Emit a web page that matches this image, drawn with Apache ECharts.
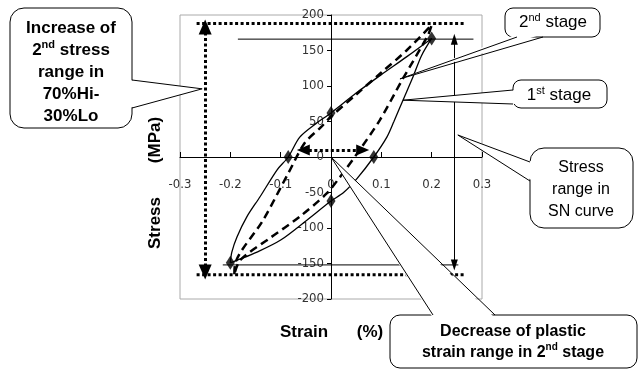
<!DOCTYPE html>
<html>
<head>
<meta charset="utf-8">
<script src="https://cdn.jsdelivr.net/npm/echarts@6/dist/echarts.min.js"></script>
<style>
html, body { margin: 0; padding: 0; background: #fff; }
#main { width: 641px; height: 370px; }
</style>
</head>
<body>
<div id="main"></div>
<script>
// hysteresis loops, strain in %, stress in MPa
var stage1Strain = [-0.2, -0.197, -0.187, -0.167, -0.141, -0.107, -0.085, -0.062, -0.03, 0, 0.05, 0.1, 0.15, 0.2,
  0.18, 0.163, 0.143, 0.125, 0.111, 0.085, 0.052, 0.025, 0, -0.048, -0.1, -0.147, -0.185, -0.2];
var stage1Stress = [-149, -134, -113, -84, -56, -18, 0, 28, 47, 62, 90, 116, 141, 167,
  143, 113, 80, 50, 28, 0, -30, -50, -62, -89, -117, -134, -145, -149];
var stage2Strain = [-0.192, -0.19, -0.135, -0.085, -0.052, -0.02, 0, 0.05, 0.1, 0.15, 0.2,
  0.193, 0.141, 0.097, 0.052, 0.018, -0.008, -0.062, -0.121, -0.18, -0.192];
var stage2Stress = [-165, -149, -89, -23, 20, 42, 57, 88, 119, 150, 186,
  172, 108, 52, 5, -28, -51, -84, -114, -145, -165];

// diamond markers
var markStrain = [-0.2, -0.085, 0, 0.2, 0.085, 0];
var markStress = [-149, 0, 62, 167, 0, -62];

// stress range in SN curve (solid) and in 2nd stage (dotted)
var snStress = [166, -152];
var snStrainTop = [-0.185, 0.283];
var snStrainBottom = [-0.215, 0.253];
var snArrowStrain = 0.245;
var stage2Range = [188, -166];
var stage2LineStrain = [-0.267, 0.267];
var stage2ArrowStrain = -0.25;
var stage2ArrowStress = [183, -162];
// decrease of plastic strain range
var plasticStrain = [-0.055, 0.063];
var plasticStress = 10;

function zip(xs, ys) {
  return xs.map(function (x, i) { return [x, ys[i]]; });
}

var W = 641, H = 370;
var gridBox = { left: 180, right: 159, top: 15, bottom: 71 };
// axes cross in the middle of the box, labels and ticks go with them
var xShift = -(H - gridBox.top - gridBox.bottom) / 2;
var yShift = -(W - gridBox.left - gridBox.right) / 2;

var chart = echarts.init(document.getElementById('main'));
var tickFont = '"Liberation Sans Narrow", "DejaVu Sans Condensed", sans-serif';
var textFont = '"Liberation Sans", Arial, sans-serif';

var option = {
  animation: false,
  backgroundColor: '#fff',
  grid: Object.assign({ show: true, borderColor: '#aaa', borderWidth: 1 }, gridBox),
  xAxis: {
    type: 'value', min: -0.3, max: 0.3, interval: 0.1, offset: xShift,
    axisLine: { onZero: false, lineStyle: { color: '#000', width: 1 } },
    axisTick: { inside: true, length: 5, lineStyle: { color: '#000' } },
    axisLabel: { margin: 21, color: '#333', fontSize: 13, fontFamily: tickFont },
    splitLine: { show: false }
  },
  yAxis: {
    type: 'value', min: -200, max: 200, interval: 50, offset: yShift,
    axisLine: { show: true, onZero: false, lineStyle: { color: '#000', width: 1 } },
    axisTick: { show: true, length: 4, lineStyle: { color: '#000' } },
    axisLabel: { margin: 7, color: '#333', fontSize: 13, fontFamily: tickFont },
    splitLine: { show: false }
  },
  series: [
    { // SN curve range lines
      type: 'line', symbol: 'none', silent: true,
      data: zip(snStrainTop, [snStress[0], snStress[0]]),
      lineStyle: { color: '#000', width: 1 }
    },
    {
      type: 'line', symbol: 'none', silent: true,
      data: zip(snStrainBottom, [snStress[1], snStress[1]]),
      lineStyle: { color: '#000', width: 1 }
    },
    { // 2nd stage range lines
      type: 'line', symbol: 'none', silent: true,
      data: zip(stage2LineStrain, [stage2Range[0], stage2Range[0]]),
      lineStyle: { color: '#000', width: 3, type: [3, 2.5] }
    },
    {
      type: 'line', symbol: 'none', silent: true,
      data: zip(stage2LineStrain, [stage2Range[1], stage2Range[1]]),
      lineStyle: { color: '#000', width: 3, type: [3, 2.5] }
    },
    { // arrows
      type: 'line', data: [], silent: true,
      markLine: {
        silent: true, animation: false,
        label: { show: false },
        symbol: ['triangle', 'triangle'],
        data: [
          [{ coord: [stage2ArrowStrain, stage2ArrowStress[0]], symbolSize: [13, 15],
             lineStyle: { color: '#000', width: 3, type: [3, 2.5] } },
           { coord: [stage2ArrowStrain, stage2ArrowStress[1]], symbolSize: [13, 15] }],
          [{ coord: [snArrowStrain, snStress[0]], symbolSize: [7, 11],
             lineStyle: { color: '#000', width: 1, type: 'solid' } },
           { coord: [snArrowStrain, snStress[1]], symbolSize: [7, 11] }],
          [{ coord: [plasticStrain[0], plasticStress], symbolSize: [11, 13],
             lineStyle: { color: '#000', width: 3, type: [3, 2.5] } },
           { coord: [plasticStrain[1], plasticStress], symbolSize: [11, 13] }]
        ],
        itemStyle: { color: '#000' }
      }
    },
    { // 1st stage
      type: 'line', symbol: 'none', smooth: 0.3, silent: true,
      data: zip(stage1Strain, stage1Stress),
      lineStyle: { color: '#000', width: 1.3 }, z: 5
    },
    { // 2nd stage
      type: 'line', symbol: 'none', smooth: 0.3, silent: true,
      data: zip(stage2Strain, stage2Stress),
      lineStyle: { color: '#000', width: 2.5, type: [8, 5] }, z: 5
    },
    {
      type: 'scatter', symbol: 'diamond', symbolSize: [9, 14], silent: true,
      data: zip(markStrain, markStress),
      itemStyle: { color: '#000' }, z: 6
    }
  ]
};
chart.setOption(option);

// callouts: box, wedge base points, tip in data space
var callouts = [
  { box: [10, 8, 122, 120, 14], base: [[132, 80], [132, 108]], inset: [-3, 0], tip: [-0.256, 96],
    text: 'Increase of\n2{sup|nd} stress\nrange in\n70%Hi-\n30%Lo', pos: [71, 72], size: 17, bold: true, lh: 22 },
  { box: [505, 8, 95, 29, 8], base: [[517, 37], [543, 37]], inset: [0, -3], tip: [0.137, 110],
    text: '2{sup|nd} stage', pos: [553, 22], size: 17, bold: false, lh: 20 },
  { box: [513, 80, 94, 28, 8], base: [[513, 90], [513, 104]], inset: [3, 0], tip: [0.143, 80],
    text: '1{sup|st} stage', pos: [559, 95], size: 17, bold: false, lh: 20 },
  { box: [530, 148, 103, 80, 14], base: [[530, 162], [530, 181]], inset: [3, 0], tip: [0.252, 31],
    text: 'Stress\nrange in\nSN curve', pos: [581, 190], size: 16, bold: false, lh: 22 },
  { box: [390, 315, 247, 53, 10], base: [[433, 315], [495, 315]], inset: [0, 3], tip: [0, 0],
    text: 'Decrease of plastic\nstrain range in 2{sup|nd} stage', pos: [513, 342], size: 16, bold: true, lh: 21 }
];

var graphics = [];
callouts.forEach(function (c) {
  var tip = chart.convertToPixel({ gridIndex: 0 }, c.tip);
  var b1 = c.base[0], b2 = c.base[1];
  var weight = c.bold ? 'bold' : 'normal';
  graphics.push({
    type: 'rect', z: 100,
    shape: { x: c.box[0], y: c.box[1], width: c.box[2], height: c.box[3], r: c.box[4] },
    style: { fill: '#fff', stroke: '#000', lineWidth: 1 }
  });
  graphics.push({
    type: 'polygon', z: 101,
    shape: { points: [[b1[0] + c.inset[0], b1[1] + c.inset[1]], tip, [b2[0] + c.inset[0], b2[1] + c.inset[1]]] },
    style: { fill: '#fff', stroke: null }
  });
  graphics.push({
    type: 'polyline', z: 102,
    shape: { points: [b1, tip, b2] },
    style: { fill: null, stroke: '#000', lineWidth: 1 }
  });
  graphics.push({
    type: 'text', z: 103, x: c.pos[0], y: c.pos[1],
    style: {
      text: c.text, fill: '#000',
      fontSize: c.size, fontWeight: weight, fontFamily: textFont,
      lineHeight: c.lh,
      align: 'center', verticalAlign: 'middle',
      textAlign: 'center', textVerticalAlign: 'middle',
      rich: {
        sup: { fontSize: Math.round(c.size * 0.62), fontWeight: weight, fontFamily: textFont,
          lineHeight: 15, verticalAlign: 'top', fill: '#000' }
      }
    }
  });
});

// axis titles
var titleStyle = { fill: '#000', fontSize: 17, fontWeight: 'bold', fontFamily: textFont,
  align: 'center', verticalAlign: 'middle', textAlign: 'center', textVerticalAlign: 'middle' };
graphics.push({ type: 'text', x: 304, y: 332, style: Object.assign({ text: 'Strain' }, titleStyle) });
graphics.push({ type: 'text', x: 370, y: 332, style: Object.assign({ text: '(%)' }, titleStyle) });
graphics.push({ type: 'text', x: 155, y: 223, rotation: Math.PI / 2, style: Object.assign({ text: 'Stress' }, titleStyle) });
graphics.push({ type: 'text', x: 155, y: 140, rotation: Math.PI / 2, style: Object.assign({ text: '(MPa)' }, titleStyle) });

chart.setOption({ graphic: graphics });
</script>
</body>
</html>
